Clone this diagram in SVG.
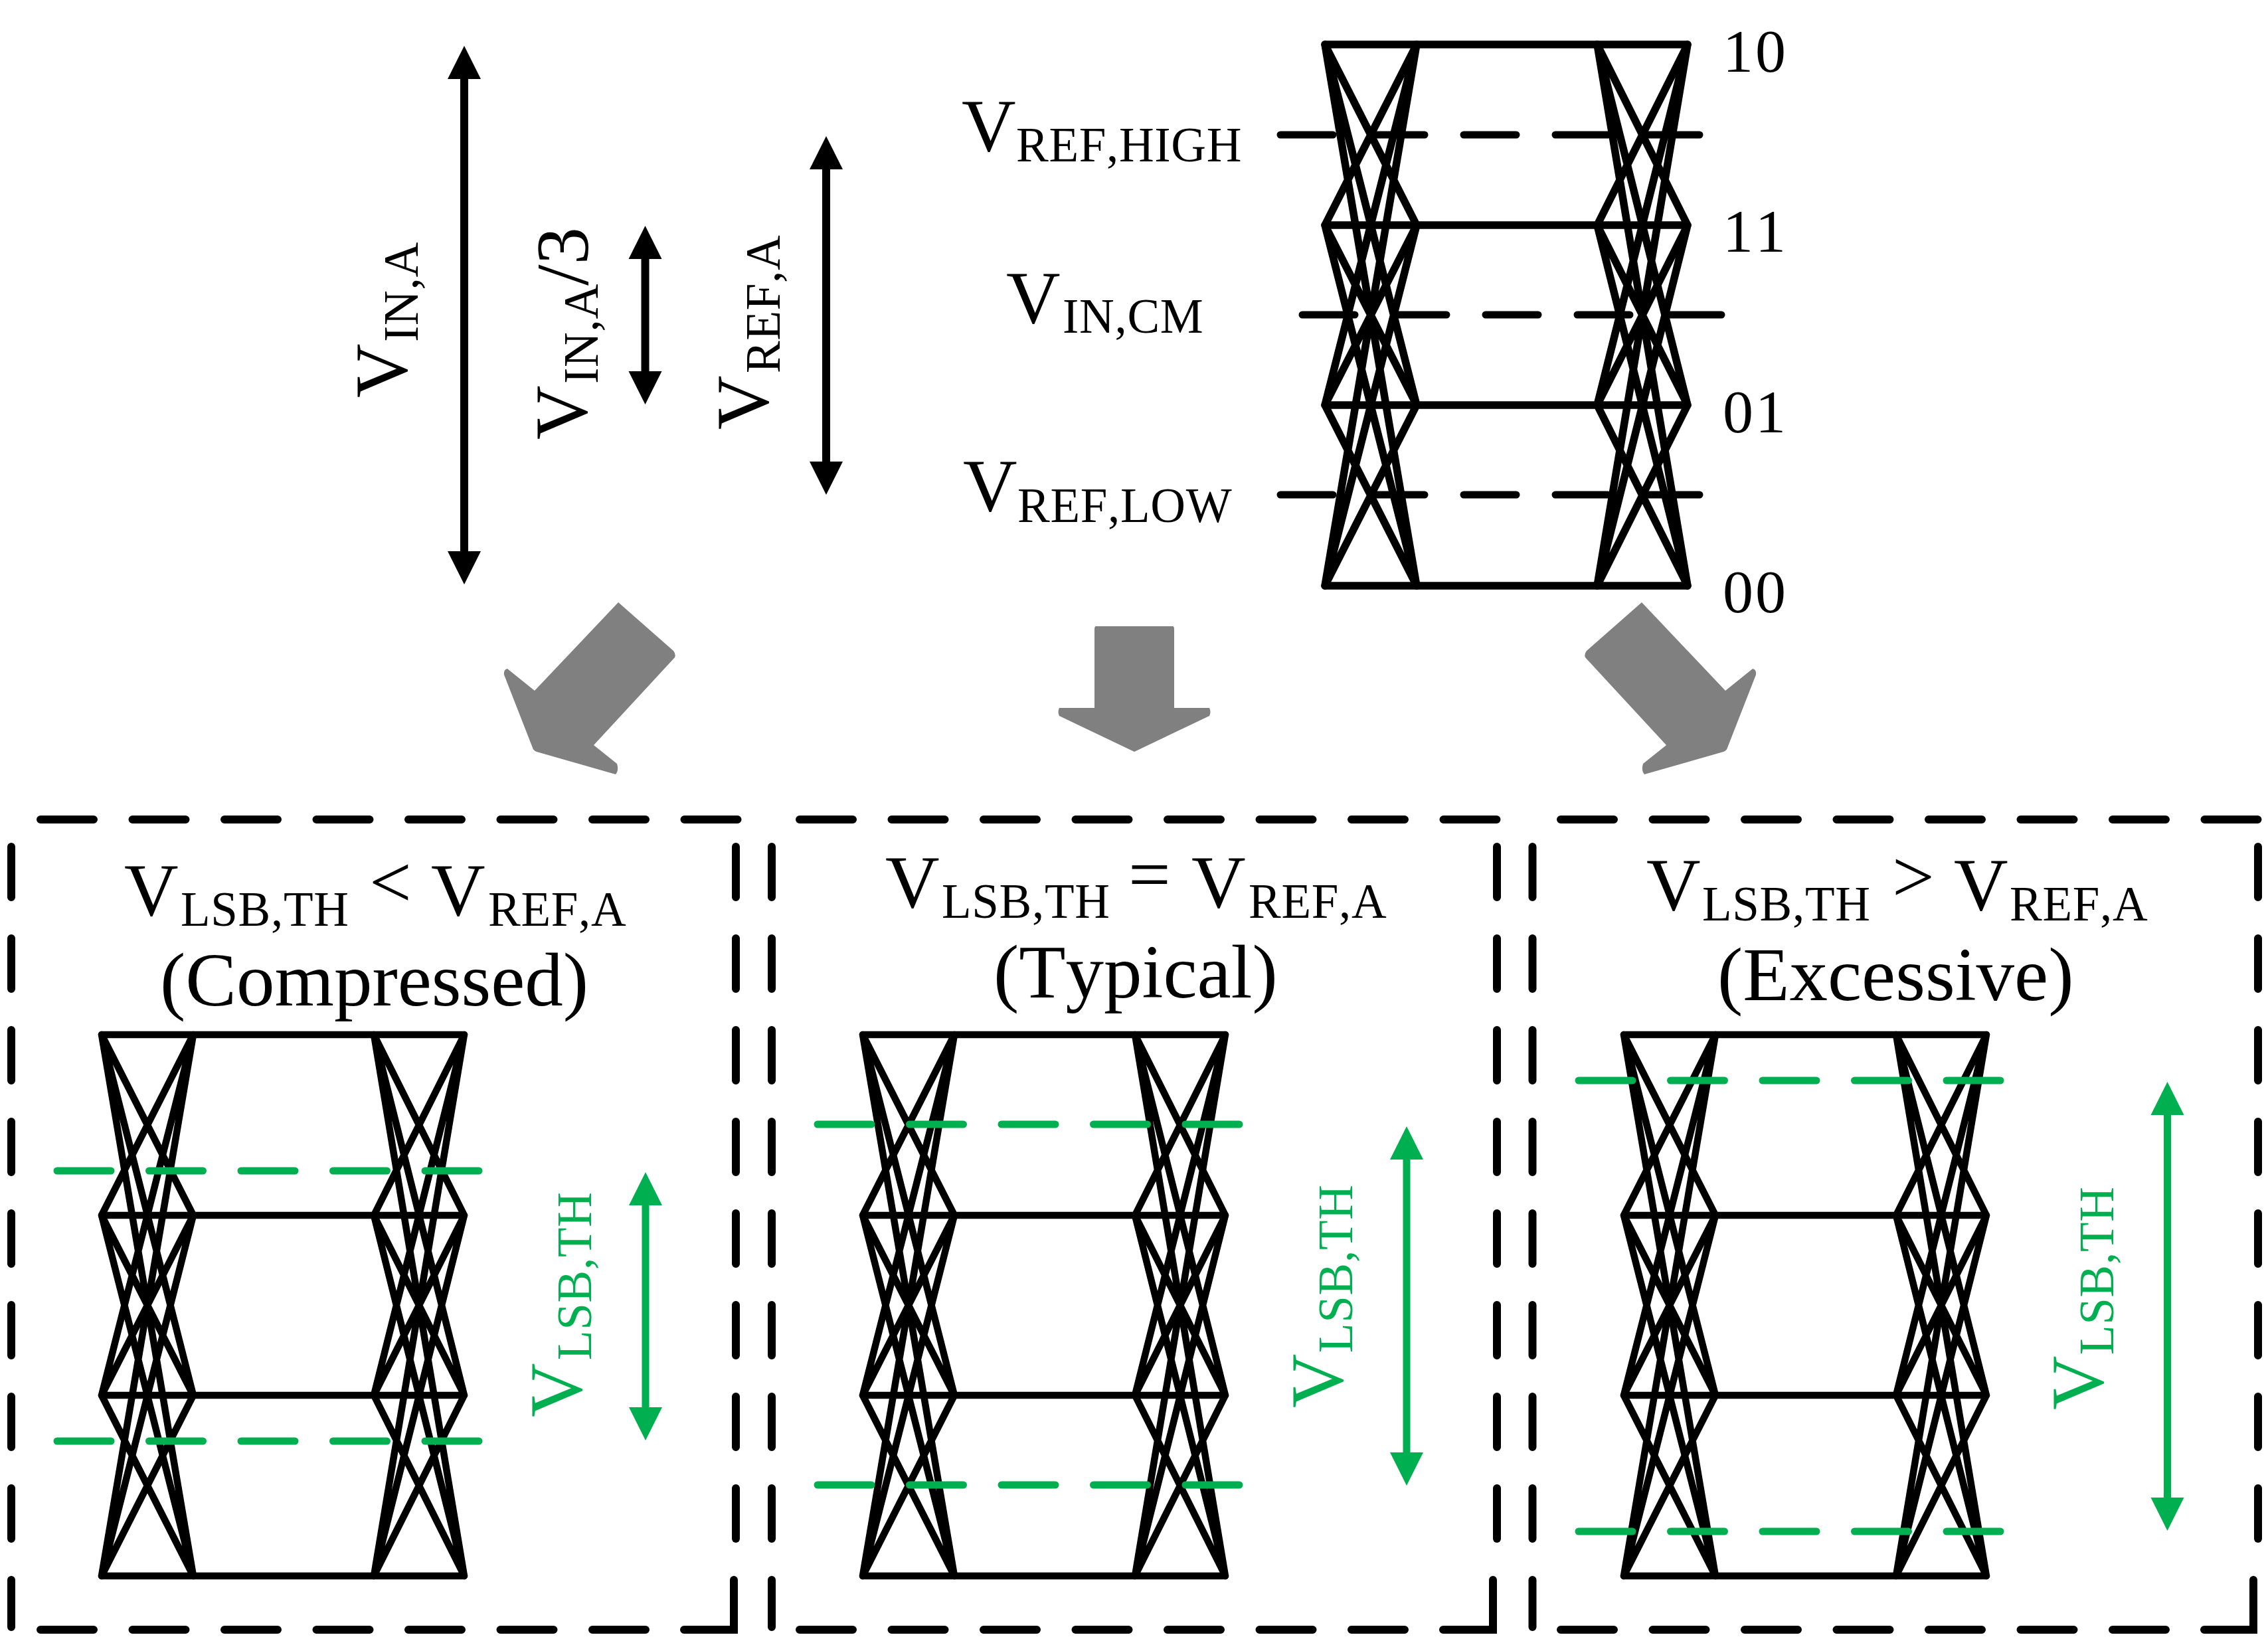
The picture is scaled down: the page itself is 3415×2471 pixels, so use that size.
<svg xmlns="http://www.w3.org/2000/svg" xmlns:xlink="http://www.w3.org/1999/xlink" width="3415" height="2471" viewBox="0 0 3415 2471">
<style>
text{font-family:"Liberation Serif","Times New Roman",serif;fill:#000;font-kerning:none}
.m{font-size:113px}
.t{font-size:115px}
.s{font-size:73px;letter-spacing:.7px}
.d{font-size:92px;letter-spacing:3px}
.g{fill:#00B050}
.eye{fill:none;stroke:#000;stroke-linecap:round;stroke-linejoin:round}
.dash{fill:none;stroke:#000;stroke-width:11;stroke-linecap:round;stroke-dasharray:79 59}
.gd{fill:none;stroke:#00B050;stroke-width:11;stroke-linecap:round;stroke-dasharray:81 57.5}
.box{fill:none;stroke:#000;stroke-width:12;stroke-linecap:round;stroke-dasharray:80 58.5}
.boxv{fill:none;stroke:#000;stroke-width:12;stroke-linecap:round;stroke-dasharray:76 62}
.cor{fill:none;stroke:#000;stroke-width:12;stroke-linecap:round;stroke-linejoin:miter}
.ar{stroke:#000;stroke-width:12;marker-start:url(#hk);marker-end:url(#hk)}
.ag{stroke:#00B050;stroke-width:11;marker-start:url(#hg);marker-end:url(#hg)}
.big{fill:#808080}
</style>
<defs>
<marker id="hk" markerUnits="userSpaceOnUse" markerWidth="50" markerHeight="52" viewBox="0 0 50 52" refX="1" refY="26" orient="auto-start-reverse"><path d="M0,1 L50,26 L0,51Z" fill="#000"/></marker>
<marker id="hg" markerUnits="userSpaceOnUse" markerWidth="50" markerHeight="52" viewBox="0 0 50 52" refX="1" refY="26" orient="auto-start-reverse"><path d="M0,1 L50,26 L0,51Z" fill="#00B050"/></marker>
<g id="eye">
<path d="M0,0H546M0,272H546M0,543H546M0,815H546"/>
<path d="M0,0L138,272M0,0L138,543M0,0L138,815M0,272L138,0M0,272L138,543M0,272L138,815M0,543L138,0M0,543L138,272M0,543L138,815M0,815L138,0M0,815L138,272M0,815L138,543"/>
<path d="M410,0L546,272M410,0L546,543M410,0L546,815M410,272L546,0M410,272L546,543M410,272L546,815M410,543L546,0M410,543L546,272M410,543L546,815M410,815L546,0M410,815L546,272M410,815L546,543"/>
</g>
</defs>
<rect width="3415" height="2471" fill="#fff"/>

<g id="connectors">
<path class="ar" d="M699,118V831"/>
<path class="ar" d="M971.5,389V560"/>
<path class="ar" d="M1244,254V696"/>
<path class="big" d="M931,907L1014,980Q1018,985 1016,990L894,1122L929,1150Q932,1160 927,1166L808,1132Q803,1130 802,1126L759,1016Q758,1008 764,1007L805,1040Z"/>
<path class="big" d="M1650,943H1766Q1768,943 1768,948V1066H1821Q1824,1072 1821,1078L1708,1132L1595,1078Q1592,1072 1595,1066H1648V948Q1648,943 1650,943Z"/>
<path class="big" d="M2472,907L2389,980Q2385,985 2387,990L2509,1122L2474,1150Q2471,1160 2476,1166L2595,1132Q2600,1130 2601,1126L2644,1016Q2645,1008 2639,1007L2598,1040Z"/>
</g>

<g id="label-vin-a">
<text class="m" transform="translate(612,599) rotate(-90)">V</text>
<text class="s" transform="translate(629,515) rotate(-90)">IN,A</text>
</g>
<g id="label-vin-a-3">
<text class="m" transform="translate(883,662) rotate(-90)">V</text>
<text class="s" transform="translate(900,578) rotate(-90)">IN,A</text>
<text class="m" transform="translate(885,430) rotate(-90)">/3</text>
</g>
<g id="label-vref-a">
<text class="m" transform="translate(1156,647) rotate(-90)">V</text>
<text class="s" transform="translate(1174,562) rotate(-90)">REF,A</text>
</g>

<g id="eye-top">
<use href="#eye" class="eye" stroke-width="11.5" transform="translate(1995,67)"/>
<path class="dash" d="M1928,203H2563"/>
<path class="dash" d="M1961,474H2596"/>
<path class="dash" d="M1928,745H2563"/>
<text class="m" x="1448" y="227">V</text><text class="s" x="1530" y="243">REF,HIGH</text>
<text class="m" x="1515" y="486">V</text><text class="s" x="1600" y="501">IN,CM</text>
<text class="m" x="1450" y="769">V</text><text class="s" x="1532" y="786">REF,LOW</text>
<text class="d" x="2594" y="108">10</text>
<text class="d" x="2594" y="379">11</text>
<text class="d" x="2594" y="651">01</text>
<text class="d" x="2594" y="922">00</text>
</g>

<g id="panel-compressed">
<path class="box" d="M61,1234H1111"/>
<path class="box" d="M61,2454H975"/>
<path class="boxv" d="M17,1275V2450"/>
<path class="boxv" d="M1108,1275V2320"/>
<path class="cor" d="M1030,2454H1105V2379"/>
<text class="m" x="187" y="1378">V</text><text class="s" x="272" y="1394">LSB,TH</text>
<text class="m" x="556" y="1366">&lt;</text>
<text class="m" x="649" y="1378">V</text><text class="s" x="735" y="1394">REF,A</text>
<text class="t" x="241" y="1514">(Compressed)</text>
<use href="#eye" class="eye" stroke-width="10.5" transform="translate(153,1558)"/>
<path class="gd" d="M86,1763H726"/>
<path class="gd" d="M86,2170H726"/>
<path class="ag" d="M972,1814V2120"/>
<text class="m g" transform="translate(875,2134) rotate(-90)">V</text>
<text class="s g" transform="translate(890,2048) rotate(-90)">LSB,TH</text>
</g>

<g id="panel-typical">
<path class="box" d="M1204,1234H2254"/>
<path class="box" d="M1204,2454H2118"/>
<path class="boxv" d="M1162,1275V2450"/>
<path class="boxv" d="M2254,1275V2320"/>
<path class="cor" d="M2173,2454H2248V2379"/>
<text class="m" x="1333" y="1366">V</text><text class="s" x="1418" y="1382">LSB,TH</text>
<text class="m" x="1699" y="1354">=</text>
<text class="m" x="1794" y="1366">V</text><text class="s" x="1880" y="1382">REF,A</text>
<text class="t" x="1496" y="1502">(Typical)</text>
<use href="#eye" class="eye" stroke-width="10.5" transform="translate(1299,1558)"/>
<path class="gd" d="M1231,1693H1871"/>
<path class="gd" d="M1231,2236H1871"/>
<path class="ag" d="M2118,1745V2188"/>
<text class="m g" transform="translate(2021,2120) rotate(-90)">V</text>
<text class="s g" transform="translate(2036,2037) rotate(-90)">LSB,TH</text>
</g>

<g id="panel-excessive">
<path class="box" d="M2350,1234H3400"/>
<path class="box" d="M2350,2454H3264"/>
<path class="boxv" d="M2307.5,1275V2450"/>
<path class="boxv" d="M3400,1275V2320"/>
<path class="cor" d="M3319,2454H3393V2379"/>
<text class="m" x="2479" y="1370">V</text><text class="s" x="2563" y="1386">LSB,TH</text>
<text class="m" x="2849" y="1358">&gt;</text>
<text class="m" x="2942" y="1370">V</text><text class="s" x="3026" y="1386">REF,A</text>
<text class="t" x="2586" y="1506">(Excessive)</text>
<use href="#eye" class="eye" stroke-width="10.5" transform="translate(2445,1558)"/>
<path class="gd" d="M2377,1627H3017"/>
<path class="gd" d="M2377,2306H3017"/>
<path class="ag" d="M3263.5,1678V2256"/>
<text class="m g" transform="translate(3166,2123) rotate(-90)">V</text>
<text class="s g" transform="translate(3182,2040) rotate(-90)">LSB,TH</text>
</g>
</svg>
